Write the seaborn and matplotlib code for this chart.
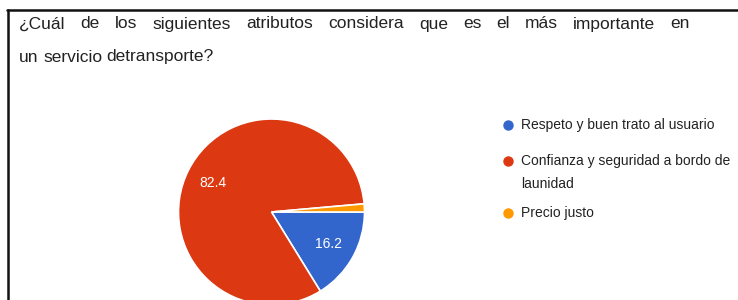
import matplotlib
matplotlib.use("Agg")
import matplotlib.pyplot as plt
import seaborn as sns
from matplotlib.lines import Line2D

# ---- data ----
categories = ["Respeto y buen trato al usuario",
              "Confianza y seguridad a bordo de\nlaunidad",
              "Precio justo"]
values = [16.2, 82.4, 1.4]
colors = ["#3366CC", "#DC3912", "#FF9900"]
title_line1 = "¿Cuál de los siguientes atributos considera que es el más importante en"
title_line2 = "un servicio detransporte?"

sns.set_theme(style="white")
plt.rcParams["font.family"] = ["Liberation Sans", "DejaVu Sans"]

W, H = 738, 300
fig = plt.figure(figsize=(W / 100, H / 100), dpi=100)
fig.patch.set_facecolor("white")


def fx(px):
    return px / W


def fy(py):
    return 1 - py / H


# ---- pie ----
cx, cy, r = 271.5, 212, 93
ax = fig.add_axes([fx(cx - r), fy(cy + r), 2 * r / W, 2 * r / H])
wedges, texts, autotexts = ax.pie(
    values, colors=colors, startangle=0, counterclock=False,
    autopct=lambda p: f"{p:.1f}" if p >= 5 else "",
    pctdistance=0.7,
    wedgeprops=dict(edgecolor="white", linewidth=1.2),
    textprops=dict(color="white", fontsize=10))
ax.set_xlim(-1, 1)
ax.set_ylim(-1, 1)
ax.set_aspect("equal")
ax.axis("off")

# ---- legend (manual, google-charts style) ----
legend_rows = [125, 161, 213]
line_pitch = 23
for cat, col, y in zip(categories, colors, legend_rows):
    fig.add_artist(Line2D([fx(508)], [fy(y)], marker="o", markersize=6.5,
                          color=col, linestyle="none",
                          transform=fig.transFigure))
    for i, line in enumerate(cat.split("\n")):
        fig.text(fx(521), fy(y + 4.5 + i * line_pitch), line, fontsize=10,
                 color="#222222", va="baseline", ha="left")

# ---- title (justified first line) ----
renderer = fig.canvas.get_renderer()
words1 = title_line1.split(" ")
tobjs = [fig.text(0, fy(28.5), w, fontsize=12.5, color="#222222",
                  va="baseline", ha="left") for w in words1]
widths = [t.get_window_extent(renderer).width for t in tobjs]
x0, x1 = 19, 690
gap = (x1 - x0 - sum(widths)) / (len(words1) - 1)
x = x0
for t, w in zip(tobjs, widths):
    t.set_x(fx(x))
    x += w + gap

words2 = title_line2.split(" ")
starts2 = [19, 43, 106]
for w, s in zip(words2, starts2):
    fig.text(fx(s), fy(61.5), w, fontsize=12.5, color="#222222",
             va="baseline", ha="left")

# ---- frame lines (top and left) ----
fig.add_artist(Line2D([fx(7.5), fx(7.5)], [fy(10), fy(300)], color="#111111",
                      linewidth=1.8, transform=fig.transFigure))
fig.add_artist(Line2D([fx(7), fx(738)], [fy(10), fy(10)], color="#111111",
                      linewidth=1.8, transform=fig.transFigure))

fig.savefig("out.png", dpi=100, facecolor="white")
